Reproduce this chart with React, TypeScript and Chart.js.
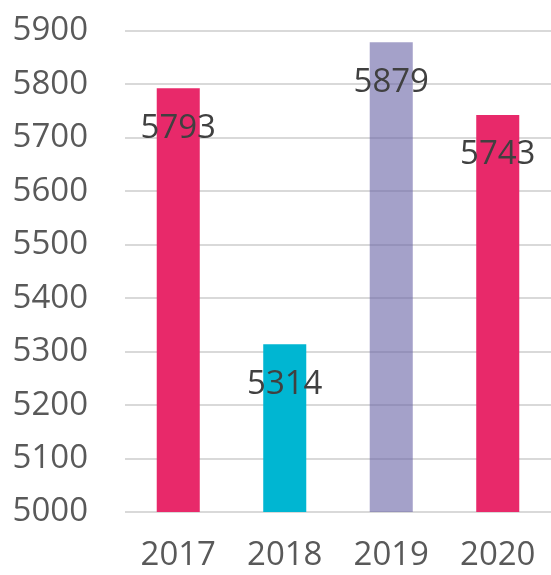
import React, { useEffect, useRef } from "react";
import { Chart, registerables } from "chart.js";

Chart.register(...registerables);

const categories = ["2017", "2018", "2019", "2020"];
const values = [5793, 5314, 5879, 5743];
const barColors = ["#E8296A", "#00B6D2", "rgba(103,98,165,0.6)", "#E8296A"];
const yMin = 5000;
const yMax = 5900;
const yStep = 100;

const FONT = "'Open Sans', sans-serif";

const labelPlugin = {
  id: "valueLabels",
  afterDatasetsDraw(chart: any) {
    const ctx = chart.ctx;
    const meta = chart.getDatasetMeta(0);
    ctx.save();
    ctx.font = `33px ${FONT}`;
    ctx.fillStyle = "#404040";
    ctx.textAlign = "center";
    ctx.textBaseline = "middle";
    meta.data.forEach((bar: any, i: number) => {
      ctx.fillText(String(values[i]), bar.x, bar.y + 40);
    });
    ctx.restore();
  },
};

export default function App() {
  const ref = useRef<HTMLCanvasElement | null>(null);
  useEffect(() => {
    document.body.style.margin = "0";
    const chart = new Chart(ref.current!, {
      type: "bar",
      data: {
        labels: categories,
        datasets: [
          {
            data: values,
            backgroundColor: barColors,
            barPercentage: 1,
            categoryPercentage: 0.404,
          },
        ],
      },
      options: {
        animation: false,
        responsive: false,
        layout: { padding: 0 },
        plugins: { legend: { display: false }, tooltip: { enabled: false } },
        scales: {
          y: {
            min: yMin,
            max: yMax,
            ticks: {
              stepSize: yStep,
              color: "#595959",
              font: { family: FONT, size: 33 },
              padding: 37,
              callback: (v: any) => String(v),
            },
            grid: { color: "#D9D9D9", lineWidth: 2, drawTicks: false },
            border: { display: false },
            afterFit: (s: any) => {
              s.width = 125;
              s.paddingTop = 31;
              s.paddingBottom = 0;
            },
          },
          x: {
            ticks: {
              color: "#595959",
              font: { family: FONT, size: 33 },
              padding: 24,
            },
            grid: { display: false, drawTicks: false },
            border: { display: false },
            afterFit: (s: any) => {
              s.height = 63;
              s.paddingLeft = 0;
              s.paddingRight = 0;
            },
          },
        },
      },
      plugins: [labelPlugin],
    });
    return () => chart.destroy();
  }, []);
  return (
    <div style={{ width: 551, height: 575 }}>
      <canvas ref={ref} width={551} height={575} />
    </div>
  );
}
